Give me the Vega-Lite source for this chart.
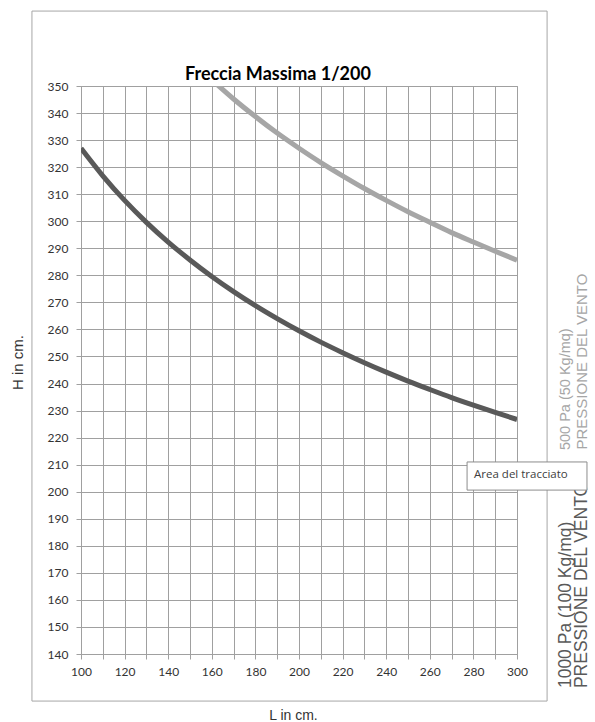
{
  "$schema": "https://vega.github.io/schema/vega-lite/v6.json",
  "width": 436,
  "height": 568,
  "autosize": {"type": "none"},
  "padding": {"left": 81, "top": 86, "right": 78, "bottom": 68},
  "background": "white",
  "config": {
    "view": {"stroke": "#A0A0A0"},
    "font": "Lato",
    "axis": {
      "gridColor": "#A0A0A0",
      "gridWidth": 1,
      "domainColor": "#A0A0A0",
      "tickColor": "#A0A0A0",
      "tickSize": 5,
      "labelFont": "Lato",
      "labelFontSize": 12,
      "labelColor": "#333333",
      "labelFlush": false,
      "labelOverlap": false,
      "titleFont": "Liberation Sans",
      "titleFontWeight": "normal",
      "titleColor": "#333333"
    }
  },
  "title": {
    "text": "Freccia Massima 1/200",
    "font": "Lato",
    "fontSize": 18,
    "fontWeight": "bold",
    "color": "#000000",
    "anchor": "middle",
    "dx": -21,
    "dy": 77,
    "offset": 4
  },
  "datasets": {
    "curves": [
      {"L": 100, "H": 327.0, "serie": "1000 Pa"},
      {"L": 110, "H": 316.8, "serie": "1000 Pa"},
      {"L": 120, "H": 307.7, "serie": "1000 Pa"},
      {"L": 130, "H": 299.6, "serie": "1000 Pa"},
      {"L": 140, "H": 292.3, "serie": "1000 Pa"},
      {"L": 150, "H": 285.7, "serie": "1000 Pa"},
      {"L": 160, "H": 279.6, "serie": "1000 Pa"},
      {"L": 170, "H": 274.0, "serie": "1000 Pa"},
      {"L": 180, "H": 268.8, "serie": "1000 Pa"},
      {"L": 190, "H": 264.0, "serie": "1000 Pa"},
      {"L": 200, "H": 259.5, "serie": "1000 Pa"},
      {"L": 210, "H": 255.3, "serie": "1000 Pa"},
      {"L": 220, "H": 251.4, "serie": "1000 Pa"},
      {"L": 230, "H": 247.7, "serie": "1000 Pa"},
      {"L": 240, "H": 244.2, "serie": "1000 Pa"},
      {"L": 250, "H": 240.9, "serie": "1000 Pa"},
      {"L": 260, "H": 237.8, "serie": "1000 Pa"},
      {"L": 270, "H": 234.8, "serie": "1000 Pa"},
      {"L": 280, "H": 232.0, "serie": "1000 Pa"},
      {"L": 290, "H": 229.3, "serie": "1000 Pa"},
      {"L": 300, "H": 226.7, "serie": "1000 Pa"},
      {"L": 160, "H": 352.3, "serie": "500 Pa"},
      {"L": 170, "H": 345.2, "serie": "500 Pa"},
      {"L": 180, "H": 338.7, "serie": "500 Pa"},
      {"L": 190, "H": 332.6, "serie": "500 Pa"},
      {"L": 200, "H": 327.0, "serie": "500 Pa"},
      {"L": 210, "H": 321.7, "serie": "500 Pa"},
      {"L": 220, "H": 316.8, "serie": "500 Pa"},
      {"L": 230, "H": 312.1, "serie": "500 Pa"},
      {"L": 240, "H": 307.7, "serie": "500 Pa"},
      {"L": 250, "H": 303.5, "serie": "500 Pa"},
      {"L": 260, "H": 299.6, "serie": "500 Pa"},
      {"L": 270, "H": 295.8, "serie": "500 Pa"},
      {"L": 280, "H": 292.3, "serie": "500 Pa"},
      {"L": 290, "H": 288.9, "serie": "500 Pa"},
      {"L": 300, "H": 285.6, "serie": "500 Pa"}
    ],
    "labels": [
      {"L": 322.5, "H": 127.4, "text": "1000 Pa (100 Kg/mq)", "serie": "1000 Pa", "size": 17.5},
      {"L": 329.8, "H": 127.4, "text": "PRESSIONE DEL VENTO", "serie": "1000 Pa", "size": 17.5},
      {"L": 322.5, "H": 215.4, "text": "500 Pa (50 Kg/mq)", "serie": "500 Pa", "size": 14.5},
      {"L": 329.6, "H": 215.6, "text": "PRESSIONE DEL VENTO", "serie": "500 Pa", "size": 15}
    ]
  },
  "encoding": {
    "x": {
      "field": "L", "type": "quantitative",
      "scale": {"domain": [100, 300], "nice": false, "zero": false},
      "axis": {
        "values": [100,110,120,130,140,150,160,170,180,190,200,210,220,230,240,250,260,270,280,290,300],
        "labelExpr": "datum.value % 20 == 0 ? datum.label : ''",
        "labelPadding": 7,
        "title": "L in cm.",
        "titleFontSize": 14,
        "titleX": 212,
        "titleY": 61,
        "titleBaseline": "middle",
        "titleAlign": "center"
      }
    },
    "y": {
      "field": "H", "type": "quantitative",
      "scale": {"domain": [140, 350], "nice": false, "zero": false},
      "axis": {
        "values": [140,150,160,170,180,190,200,210,220,230,240,250,260,270,280,290,300,310,320,330,340,350],
        "labelPadding": 8,
        "title": "H in cm.",
        "titleFontSize": 15,
        "titleX": -64,
        "titleY": 276,
        "titleBaseline": "middle",
        "titleAlign": "center",
        "titleAngle": 270
      }
    }
  },
  "layer": [
    {
      "data": {"name": "curves"},
      "mark": {"type": "line", "strokeWidth": 5, "clip": true, "interpolate": "monotone"},
      "encoding": {
        "color": {
          "field": "serie", "type": "nominal",
          "scale": {"domain": ["1000 Pa", "500 Pa"], "range": ["#595959", "#A6A6A6"]},
          "legend": null
        },
        "order": {"field": "L", "type": "quantitative"}
      }
    },
    {
      "data": {"values": [{"L": 77.5, "L2": 313.8, "H": 377.7, "H2": 122.6}]},
      "mark": {"type": "rect", "fill": null, "fillOpacity": 0, "stroke": "#A6A6A6", "strokeWidth": 1, "clip": false},
      "encoding": {
        "x2": {"field": "L2"},
        "y2": {"field": "H2"}
      }
    },
    {
      "data": {"name": "labels"},
      "mark": {"type": "text", "angle": 270, "align": "left", "baseline": "middle", "font": "Liberation Sans", "clip": false},
      "encoding": {
        "text": {"field": "text"},
        "size": {"field": "size", "type": "quantitative", "scale": null, "legend": null},
        "color": {"field": "serie", "type": "nominal", "legend": null}
      }
    },
    {
      "data": {"values": [{"L": 277.1, "L2": 332.1, "H": 211.0, "H2": 200.6}]},
      "mark": {"type": "rect", "fill": "white", "stroke": "#8C8C8C", "strokeWidth": 1, "clip": false},
      "encoding": {
        "x2": {"field": "L2"},
        "y2": {"field": "H2"}
      }
    },
    {
      "data": {"values": [{"L": 280.3, "H": 206.0, "text": "Area del tracciato"}]},
      "mark": {"type": "text", "align": "left", "baseline": "middle", "font": "Open Sans", "fontSize": 11.5, "color": "#404040", "clip": false},
      "encoding": {
        "text": {"field": "text"}
      }
    }
  ]
}
